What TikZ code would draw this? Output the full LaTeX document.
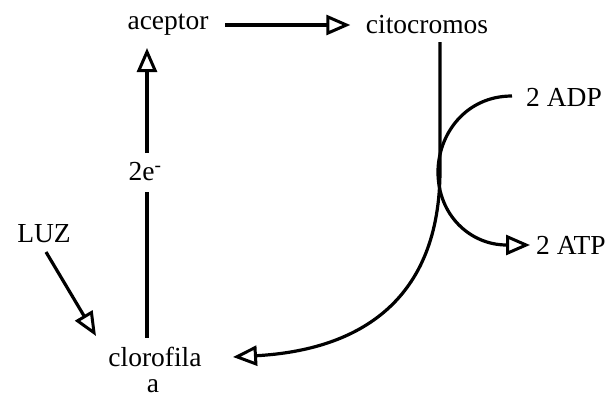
\documentclass[tikz,border=0pt]{standalone}
\usepackage{fontspec}
\setmainfont{Liberation Serif}
\usetikzlibrary{arrows.meta}
\begin{document}
\begin{tikzpicture}[x=1pt,y=-1pt, line width=3.2pt,
  lbl/.style={inner sep=0pt, font=\fontsize{27.5}{32}\selectfont},
  tip/.style={-{Triangle[open,length=24pt,width=20pt,fill=white,line width=3pt]}}]
\useasboundingbox (0,0) rectangle (613,400);
\node[lbl] (acep) at (168,25) {aceptor};
\node[lbl] (cito) at (427,25) {citocromos};
\node[lbl] (adp) at (564,97) {2 ADP};
\node[lbl] (atp) at (571,245) {2 ATP};
\node[lbl] (luz) at (44,234) {LUZ};
\node[lbl] (clo) at (155,357) {clorofila};
\node[lbl] (cloa) at (153,386) {a};
\node[lbl] (e) at (145,172) {2e\textsuperscript{-}};
\coordinate (top) at (440,42);
\coordinate (mid) at (440,170);
\coordinate (luzs) at (46,252);
\coordinate (cloin) at (96,336);
% aceptor -> citocromos
\draw[tip, shorten <=15pt, shorten >=14pt] (acep.east) -- (cito.west);
% clorofila -> 2e -> aceptor
\draw (147,192) -- (147,338);
\draw[tip] (147,153) -- (147,48);
% LUZ -> clorofila
\draw[tip] (luzs) -- (cloin);
% citocromos -> clorofila
\draw[tip] (top) -- (mid) .. controls (440,300) and (360,350) .. (233,357);
% ADP -> ATP
\draw[tip] (512,96) .. controls (465,96) and (438,135) .. (438,172)
  .. controls (438,215) and (470,245) .. (530,245);
\end{tikzpicture}
\end{document}
